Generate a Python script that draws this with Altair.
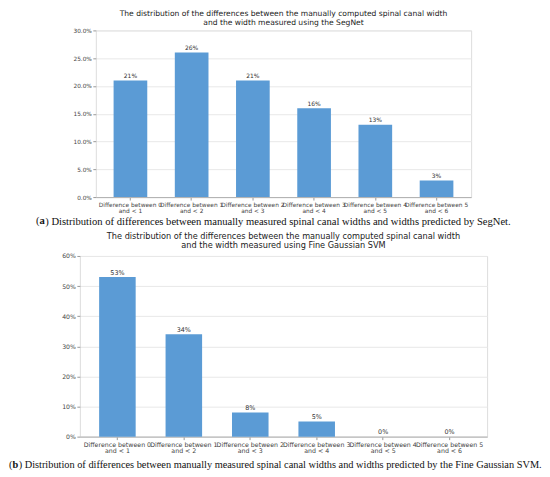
import altair as alt
import pandas as pd

categories = [
    "Difference between 0\nand < 1",
    "Difference between 1\nand < 2",
    "Difference between 2\nand < 3",
    "Difference between 3\nand < 4",
    "Difference between 4\nand < 5",
    "Difference between 5\nand < 6",
]
segnet_values = [0.21, 0.26, 0.21, 0.16, 0.13, 0.03]
svm_values = [0.53, 0.34, 0.08, 0.05, 0.00, 0.00]

segnet_title = [
    "The distribution of the differences between the manually computed spinal canal width",
    "and the width measured using the SegNet",
]
svm_title = [
    "The distribution of the differences between the manually computed spinal canal width",
    "and the width measured using Fine Gaussian SVM",
]
segnet_caption = ") Distribution of differences between manually measured spinal canal widths and widths predicted by SegNet."
svm_caption = ") Distribution of differences between manually measured spinal canal widths and widths predicted by the Fine Gaussian SVM."
segnet_letter = "a"
svm_letter = "b"

segnet_ticks = [0.0, 0.05, 0.10, 0.15, 0.20, 0.25, 0.30]
svm_ticks = [0.0, 0.1, 0.2, 0.3, 0.4, 0.5, 0.6]

BAR = "#5b9bd5"
SANS = "DejaVu Sans"
SERIF = "Liberation Serif"


def panel(values, title_lines, caption, letter, letter_w, width, height, ymax, yticks, yfmt,
          title_size, tick_size, xlabel_size, value_size, cap_size, cap_x, cap_y, title_offset):
    df = pd.DataFrame({"cat": categories, "val": values})
    rest_x = cap_x + (0.333 + letter_w) * cap_size
    x = alt.X(
        "cat:N",
        sort=categories,
        scale=alt.Scale(paddingInner=0.45, paddingOuter=0.29),
        axis=alt.Axis(
            labelExpr="split(datum.label, '\\n')",
            labelAngle=0,
            labelFont=SANS,
            labelFontSize=xlabel_size,
            labelColor="#444444",
            labelLineHeight=6,
            labelPadding=1.5,
            labelOverlap=False,
            labelBound=False,
            labelLimit=300,
            tickSize=3,
            tickColor="#999999",
            domainColor="#b0b0b0",
            domainWidth=1,
            grid=False,
            title=caption,
            titleFont=SERIF,
            titleFontSize=cap_size,
            titleFontWeight="normal",
            titleColor="#111111",
            titleX=rest_x,
            titleY=cap_y,
            titleAlign="left",
            titleBaseline="middle",
        ),
    )
    y = alt.Y(
        "val:Q",
        scale=alt.Scale(domain=[0, ymax], nice=False),
        axis=alt.Axis(
            values=yticks,
            format=yfmt,
            domain=False,
            tickSize=3,
            tickColor="#999999",
            labelFont=SANS,
            labelFontSize=tick_size,
            labelColor="#444444",
            labelPadding=1.5,
            labelOverlap=False,
            grid=True,
            gridColor="#e8e8e8",
            gridWidth=1,
            title=None,
        ),
    )
    base = alt.Chart(df)
    bars = base.mark_bar(color=BAR).encode(x=x, y=y)
    labels = base.mark_text(
        font=SANS, fontSize=value_size, color="#333333", dy=-2.5, baseline="alphabetic"
    ).encode(x=x, y=y, text=alt.Text("val:Q", format=".0%"))
    paren = alt.Chart(pd.DataFrame({"t": ["("]})).mark_text(
        font=SERIF, fontSize=cap_size, color="#111111", align="left", baseline="middle",
    ).encode(text="t:N", x=alt.value(cap_x), y=alt.value(height + cap_y))
    bold_letter = alt.Chart(pd.DataFrame({"t": [letter]})).mark_text(
        font=SERIF, fontSize=cap_size, fontWeight="bold", color="#111111",
        align="left", baseline="middle",
    ).encode(
        text="t:N",
        x=alt.value(cap_x + 0.333 * cap_size),
        y=alt.value(height + cap_y),
    )
    return alt.layer(bars, labels, paren, bold_letter).properties(
        width=width,
        height=height,
        title=alt.Title(
            text=title_lines,
            font=SANS,
            fontSize=title_size,
            fontWeight="normal",
            color="#222222",
            lineHeight=9,
            offset=title_offset,
            anchor="middle",
        ),
    )


top = panel(segnet_values, segnet_title, segnet_caption, segnet_letter, 0.5, 376, 167, 0.30,
            segnet_ticks, ".1%", 7.6, 5.8, 5.9, 6.0, 10.6, -60, 24, 1)
bottom = panel(svm_values, svm_title, svm_caption, svm_letter, 0.556, 408, 181, 0.60,
               svm_ticks, ".0%", 8.2, 6.2, 6.3, 6.4, 10.35, -71, 28, 3)

chart = alt.vconcat(top, bottom, spacing=59, center=True, bounds="flush").properties(
    padding={"left": 0, "top": 0, "right": 0, "bottom": 0}
).configure_view(strokeWidth=0).configure(background="white")

chart.save("out.html", embed_options={"renderer": "svg", "actions": False})
